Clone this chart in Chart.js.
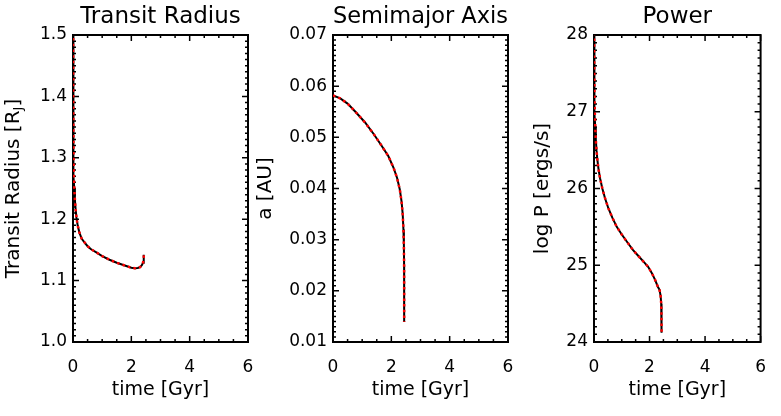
<!DOCTYPE html>
<html><head><meta charset="utf-8">
<script src="https://cdn.jsdelivr.net/npm/chart.js@4"></script>
<style>
html,body{margin:0;padding:0;background:#fff;}
#wrap{position:relative;width:781px;height:416px;background:#fff;}
canvas{position:absolute;left:0;top:0;}
</style></head><body>
<div id="wrap">
<canvas id="c1" width="781" height="416"></canvas>
<canvas id="c2" width="781" height="416"></canvas>
<canvas id="c3" width="781" height="416"></canvas>
</div>
<script>
// ---- data ----
const timeTicks = [0, 2, 4, 6];
const timeTickLabels = ['0', '2', '4', '6'];

const radiusTime   = [0, 0.003, 0.006, 0.01, 0.015, 0.02, 0.03, 0.045, 0.065, 0.09, 0.12, 0.16, 0.22, 0.3, 0.4, 0.5, 0.62, 0.8, 1.0, 1.25, 1.5, 1.75, 2.0, 2.12, 2.22, 2.3, 2.36, 2.4, 2.42, 2.43];
const radiusValues = [1.56, 1.47, 1.41, 1.36, 1.32, 1.295, 1.27, 1.25, 1.232, 1.216, 1.202, 1.19, 1.178, 1.168, 1.162, 1.156, 1.151, 1.146, 1.140, 1.134, 1.129, 1.125, 1.121, 1.120, 1.1205, 1.122, 1.125, 1.129, 1.134, 1.142];
const radiusTicks = [1.0, 1.1, 1.2, 1.3, 1.4, 1.5];
const radiusTickLabels = ['1.0', '1.1', '1.2', '1.3', '1.4', '1.5'];

const axisTime   = [0, 0.25, 0.5, 0.8, 1.1, 1.4, 1.65, 1.9, 2.08, 2.2, 2.29, 2.35, 2.39, 2.415, 2.43, 2.438, 2.44, 2.44];
const axisValues = [0.0582, 0.0576, 0.0566, 0.0548, 0.0529, 0.0506, 0.0485, 0.0463, 0.0440, 0.0420, 0.0398, 0.0375, 0.0350, 0.0320, 0.0290, 0.0250, 0.0200, 0.0139];
const axisTicks = [0.01, 0.02, 0.03, 0.04, 0.05, 0.06, 0.07];
const axisTickLabels = ['0.01', '0.02', '0.03', '0.04', '0.05', '0.06', '0.07'];

const powerTime   = [0, 0.004, 0.008, 0.013, 0.02, 0.03, 0.045, 0.065, 0.09, 0.12, 0.16, 0.22, 0.3, 0.4, 0.52, 0.66, 0.82, 1.0, 1.2, 1.4, 1.6, 1.8, 1.95, 2.08, 2.2, 2.3, 2.36, 2.4, 2.42, 2.43, 2.435];
const powerValues = [28.4, 27.9, 27.6, 27.35, 27.15, 26.98, 26.8, 26.64, 26.5, 26.38, 26.26, 26.13, 26.0, 25.87, 25.74, 25.62, 25.5, 25.4, 25.3, 25.2, 25.12, 25.04, 24.98, 24.9, 24.81, 24.72, 24.68, 24.6, 24.5, 24.35, 24.12];
const powerTicks = [24, 25, 26, 27, 28];
const powerTickLabels = ['24', '25', '26', '27', '28'];

// ---- rendering ----
const FONT = 'DejaVu Sans';

const framePlugin = {
  id: 'frame',
  beforeDatasetsDraw(chart, args, opts) {
    const {ctx, chartArea: a, scales: {x, y}} = chart;
    ctx.save();
    ctx.strokeStyle = '#000';
    ctx.lineWidth = 2;
    ctx.strokeRect(a.left, a.top, a.right - a.left, a.bottom - a.top);
    ctx.lineWidth = 1.5;
    ctx.beginPath();
    const xt = opts.xTicks, xm = opts.xMinor, yt = opts.yTicks, ym = opts.yMinor;
    const vx = (px, len) => {
      ctx.moveTo(px, a.bottom); ctx.lineTo(px, a.bottom - len);
      ctx.moveTo(px, a.top); ctx.lineTo(px, a.top + len);
    };
    const hy = (py, len) => {
      ctx.moveTo(a.left, py); ctx.lineTo(a.left + len, py);
      ctx.moveTo(a.right, py); ctx.lineTo(a.right - len, py);
    };
    for (let i = 0; i < xt.length; i++) {
      vx(x.getPixelForValue(xt[i]), 6);
      if (i < xt.length - 1) for (let k = 1; k < xm; k++) vx(x.getPixelForValue(xt[i] + (xt[i + 1] - xt[i]) * k / xm), 3);
    }
    for (let i = 0; i < yt.length; i++) {
      hy(y.getPixelForValue(yt[i]), 6);
      if (i < yt.length - 1) for (let k = 1; k < ym; k++) hy(y.getPixelForValue(yt[i] + (yt[i + 1] - yt[i]) * k / ym), 3);
    }
    ctx.stroke();
    ctx.restore();
  },
  afterDraw(chart, args, opts) {
    if (!opts.subTitle) return;
    const {ctx, chartArea: a} = chart;
    const t = opts.subTitle;
    ctx.save();
    ctx.fillStyle = '#000';
    ctx.textBaseline = 'middle';
    ctx.textAlign = 'left';
    const big = '20px "' + FONT + '"', small = '13px "' + FONT + '"';
    ctx.font = big; const w1 = ctx.measureText(t[0]).width; const w3 = ctx.measureText(t[2]).width;
    ctx.font = small; const w2 = ctx.measureText(t[1]).width;
    const total = w1 + w2 + w3;
    ctx.translate(opts.subTitleX, (a.top + a.bottom) / 2);
    ctx.rotate(-Math.PI / 2);
    let xx = -total / 2;
    ctx.font = big; ctx.fillText(t[0], xx, 0); xx += w1;
    ctx.font = small; ctx.fillText(t[1], xx, 5); xx += w2;
    ctx.font = big; ctx.fillText(t[2], xx, 0);
    ctx.restore();
  }
};

function makePanel(id, cfg) {
  const points = cfg.time.map((t, i) => ({x: t, y: cfg.values[i]}));
  return new Chart(document.getElementById(id), {
    type: 'line',
    data: {
      datasets: [
        {data: points, borderColor: '#ff0000', borderWidth: 2.5, borderDash: [2.5, 3.2], pointRadius: 0, tension: 0, fill: false},
        {data: points, borderColor: '#000000', borderWidth: 2, pointRadius: 0, tension: 0, fill: false}
      ]
    },
    options: {
      responsive: false,
      animation: false,
      devicePixelRatio: 1,
      layout: {padding: {left: cfg.padLeft, right: 781 - cfg.plotRight, top: 0, bottom: 0}},
      plugins: {
        legend: {display: false},
        tooltip: {enabled: false},
        title: {display: true, text: cfg.title, fullSize: false, color: '#000',
                font: {family: FONT, size: 23, weight: 'normal'}, padding: {top: 3.5, bottom: 3.9}},
        frame: {xTicks: timeTicks, xMinor: 4, yTicks: cfg.yTicks, yMinor: 10,
                subTitle: cfg.subTitle, subTitleX: cfg.subTitleX}
      },
      scales: {
        x: {
          type: 'linear', min: 0, max: 6,
          afterBuildTicks: s => { s.ticks = timeTicks.map(v => ({value: v})); },
          afterFit: s => { s.height = 74; },
          ticks: {callback: (v, i) => timeTickLabels[i], color: '#000', padding: 15, maxRotation: 0, autoSkip: false,
                  font: {family: FONT, size: 17}},
          grid: {display: false, drawTicks: false},
          border: {display: false},
          title: {display: true, text: 'time [Gyr]', color: '#000', font: {family: FONT, size: 19},
                  padding: {top: 0, bottom: 15}}
        },
        y: {
          type: 'linear', min: cfg.yTicks[0], max: cfg.yTicks[cfg.yTicks.length - 1],
          afterBuildTicks: s => { s.ticks = cfg.yTicks.map(v => ({value: v})); },
          afterFit: s => { s.width = cfg.yWidth; },
          ticks: {callback: (v, i) => cfg.yLabels[i], color: '#000', padding: 6, autoSkip: false,
                  font: {family: FONT, size: 17}},
          grid: {display: false, drawTicks: false},
          border: {display: false},
          title: {display: !!cfg.yTitle, text: cfg.yTitle || '', color: '#000', font: {family: FONT, size: 20},
                  padding: {top: cfg.yTitlePad, bottom: 0}}
        }
      }
    },
    plugins: [framePlugin]
  });
}

makePanel('c1', {title: 'Transit Radius', time: radiusTime, values: radiusValues,
  yTicks: radiusTicks, yLabels: radiusTickLabels, padLeft: 0, yWidth: 73, plotRight: 248,
  yTitle: null, yTitlePad: 0, subTitle: ['Transit Radius [R', 'J', ']'], subTitleX: 14});
makePanel('c2', {title: 'Semimajor Axis', time: axisTime, values: axisValues,
  yTicks: axisTicks, yLabels: axisTickLabels, padLeft: 250, yWidth: 83, plotRight: 508,
  yTitle: 'a [AU]', yTitlePad: 4});
makePanel('c3', {title: 'Power', time: powerTime, values: powerValues,
  yTicks: powerTicks, yLabels: powerTickLabels, padLeft: 520, yWidth: 74, plotRight: 769,
  yTitle: 'log P [ergs/s]', yTitlePad: 11});
</script>
</body></html>
